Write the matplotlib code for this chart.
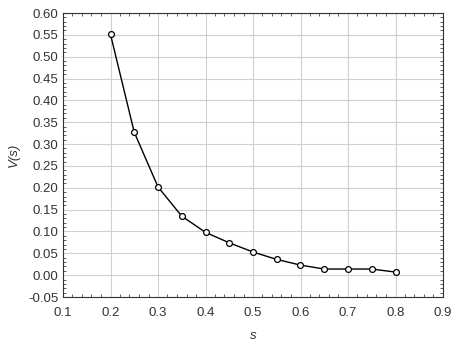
import matplotlib
matplotlib.use("Agg")
import matplotlib.pyplot as plt
from matplotlib.ticker import MultipleLocator, FormatStrFormatter

plt.rcParams["font.family"] = ["Liberation Sans", "DejaVu Sans"]

# data
s_vals = [0.2, 0.25, 0.3, 0.35, 0.4, 0.45, 0.5, 0.55, 0.6, 0.65, 0.7, 0.75, 0.8]
v_vals = [0.551, 0.327, 0.202, 0.135, 0.098, 0.074, 0.053, 0.036, 0.023, 0.014, 0.014, 0.014, 0.007]

fig = plt.figure(figsize=(4.6, 3.46), dpi=100)
ax = fig.add_axes([63 / 460, 1 - 297 / 346, 380 / 460, 284 / 346])

ax.plot(s_vals, v_vals, color="black", linewidth=1.0, marker="o", markersize=4.2,
        markerfacecolor="white", markeredgecolor="black", markeredgewidth=0.9, zorder=3)

ax.set_xlim(0.1, 0.9)
ax.set_ylim(-0.05, 0.6)
ax.xaxis.set_major_locator(MultipleLocator(0.1))
ax.yaxis.set_major_locator(MultipleLocator(0.05))
ax.xaxis.set_minor_locator(MultipleLocator(0.02))
ax.yaxis.set_minor_locator(MultipleLocator(0.01))
ax.xaxis.set_major_formatter(FormatStrFormatter("%.1f"))
ax.yaxis.set_major_formatter(FormatStrFormatter("%.2f"))

ax.grid(True, which="major", color="#cfcfcf", linewidth=0.8)
ax.tick_params(which="both", direction="in", top=True, right=True, colors="#444444",
               labelcolor="#333333", labelsize=9.5)
ax.tick_params(which="major", length=0)
ax.tick_params(axis="x", which="major", pad=7)
ax.tick_params(which="minor", length=2, width=0.6)
for sp in ax.spines.values():
    sp.set_color("#333333")
    sp.set_linewidth(0.8)

ax.set_xlabel("s", fontstyle="italic", fontsize=9.5, color="#333333", labelpad=8)
ax.set_ylabel("V(s)", fontstyle="italic", fontsize=9.5, color="#333333", labelpad=6)

fig.savefig("out.png", dpi=100)
